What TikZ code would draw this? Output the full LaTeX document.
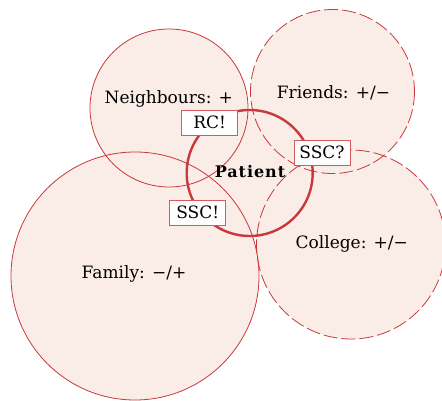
\documentclass[tikz,border=0pt]{standalone}
\usepackage{fontspec}
\setmainfont{DejaVu Serif}
\definecolor{ringred}{HTML}{C8383C}
\definecolor{boxred}{HTML}{D05A5E}
\definecolor{blush}{HTML}{FAECE6}
\tikzset{
  x=1pt, y=-1pt,
  ring/.style={draw=ringred, line width=0.8pt},
  dashring/.style={ring, dash pattern=on 14pt off 4pt},
  patientring/.style={draw=ringred, line width=2.4pt},
  lbl/.style={font=\fontsize{17}{20}\selectfont, text=black},
  tag/.style={draw=boxred, fill=white, line width=0.9pt, inner sep=0pt,
    minimum width=56pt, minimum height=25pt, text height=13pt, text depth=2pt,
    font=\fontsize{17}{20}\selectfont}
}
\begin{document}
\begin{tikzpicture}
\useasboundingbox (0,0) rectangle (442,401);
% centres
\coordinate (cN) at (169,108);
\coordinate (cF) at (332.5,91.5);
\coordinate (cP) at (249.7,173);
\coordinate (cFa) at (135,276);
\coordinate (cC) at (351,244.5);
% fills
\fill[blush] (cN) circle (79);
\fill[blush] (cF) circle (82);
\fill[blush] (cFa) circle (124);
\fill[blush] (cC) circle (94.5);
\fill[blush] (cP) circle (63);
% strokes
\draw[ring] (cN) circle (79);
\draw[dashring] (cF) circle (82);
\draw[ring] (cFa) circle (124);
\draw[dashring] (cC) circle (94.5);
\draw[patientring] (cP) circle (63);
% labels
\node[lbl] (neigh) at (168.8,98.5) {Neighbours: +};
\node[lbl] (friends) at (333.5,93) {Friends: +/−};
\node[lbl, font=\fontsize{16}{18}\selectfont\bfseries\addfontfeature{LetterSpace=6}] (patient) at (250,171.5) {Patient};
\node[lbl] (college) at (351.8,244) {College: +/−};
\node[lbl] (family) at (134,274.3) {Family: −/+};
\node[tag] (rc) at (209.7,123.3) {RC!};
\node[tag] (sscq) at (322,153.3) {SSC?};
\node[tag] (ssce) at (197.7,213.3) {SSC!};
\end{tikzpicture}
\end{document}
